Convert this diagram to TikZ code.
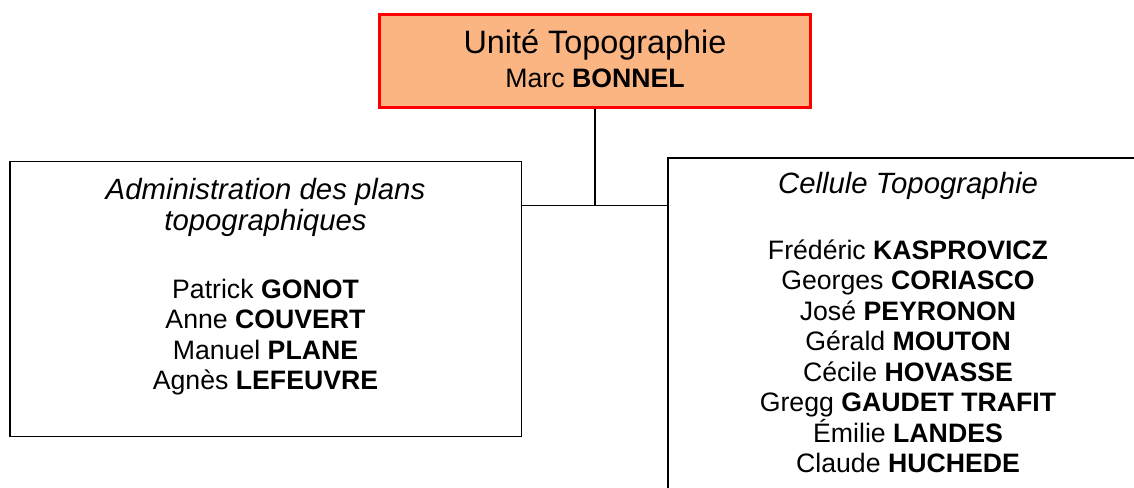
\documentclass[tikz,border=0pt]{standalone}
\usepackage{fontspec}
\setmainfont{Liberation Sans}
\definecolor{peach}{RGB}{251,181,131}
\begin{document}
\begin{tikzpicture}[x=0.75pt,y=-0.75pt,
  box/.style={draw=black,line width=1.1pt,fill=white,inner sep=0pt},
  headbox/.style={draw=red,line width=2.2pt,fill=peach,inner sep=0pt},
  txt/.style={anchor=base,inner sep=0pt,font=\fontsize{20}{23}\selectfont},
  headtxt/.style={anchor=base,inner sep=0pt,font=\fontsize{22}{25}\selectfont\itshape},
  bigtxt/.style={anchor=base,inner sep=0pt,font=\fontsize{24.3}{28}\selectfont},
  link/.style={draw=black,line width=1.1pt}]
\useasboundingbox (0,0) rectangle (1134,487);
\clip (0,0) rectangle (1134,487);
% boxes
\node[headbox,minimum width=323.25pt,minimum height=69.75pt] (top) at (595,61) {};
\node[box,minimum width=383.6pt,minimum height=205.9pt] (left) at (265.5,299) {};
\node[box,minimum width=360.75pt,minimum height=271.5pt] (right) at (908.4,339) {};
% connectors
\coordinate (j) at (595,205.5);
\draw[link] (top.south) -- (j);
\draw[link] (left.east |- j) -- (right.west |- j);
% top text
\node[bigtxt] (t1) at (595,53) {Unité Topographie};
\node[txt] (t2) at (595,87) {Marc \textbf{BONNEL}};
% left text
\node[headtxt] (l1) at (265.5,199) {Administration des plans};
\node[headtxt] (l2) at (265.5,230) {topographiques};
\node[txt] (l3) at (265.5,298) {Patrick \textbf{GONOT}};
\node[txt] (l4) at (265.5,328.5) {Anne \textbf{COUVERT}};
\node[txt] (l5) at (265.5,359) {Manuel \textbf{PLANE}};
\node[txt] (l6) at (265.5,389.5) {Agnès \textbf{LEFEUVRE}};
% right text
\node[headtxt] (r1) at (908,193) {Cellule Topographie};
\node[txt] (r2) at (908,259) {Frédéric \textbf{KASPROVICZ}};
\node[txt] (r3) at (908,289.5) {Georges \textbf{CORIASCO}};
\node[txt] (r4) at (908,320) {José \textbf{PEYRONON}};
\node[txt] (r5) at (908,350.5) {Gérald \textbf{MOUTON}};
\node[txt] (r6) at (908,381) {Cécile \textbf{HOVASSE}};
\node[txt] (r7) at (908,411.5) {Gregg \textbf{GAUDET TRAFIT}};
\node[txt] (r8) at (908,442) {Émilie \textbf{LANDES}};
\node[txt] (r9) at (908,472.5) {Claude \textbf{HUCHEDE}};
\end{tikzpicture}
\end{document}
